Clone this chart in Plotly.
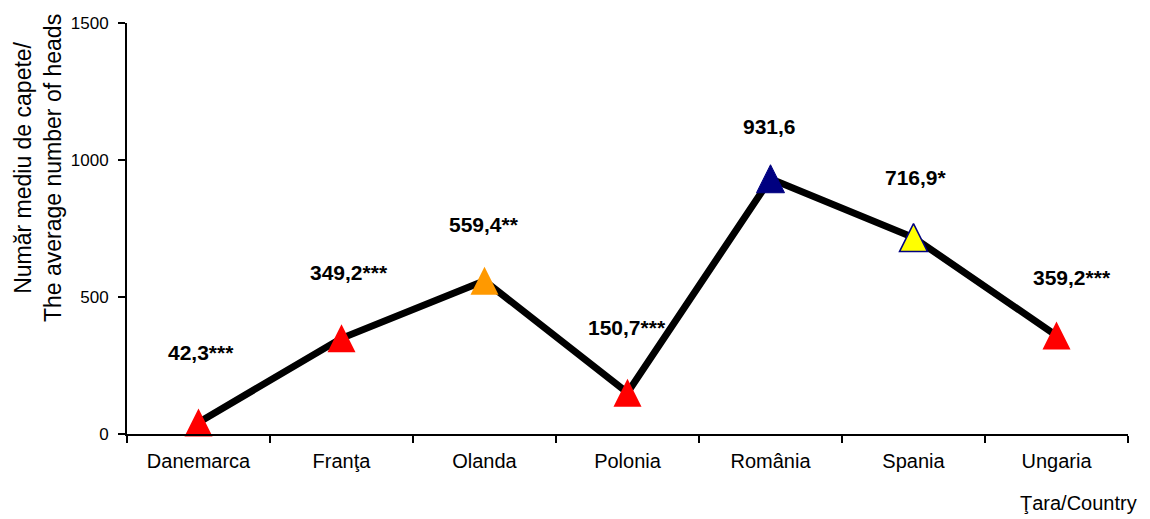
import plotly.graph_objects as go

countries = ["Danemarca", "Franţa", "Olanda", "Polonia", "România", "Spania", "Ungaria"]
values = [42.3, 349.2, 559.4, 150.7, 931.6, 716.9, 359.2]
labels = ["42,3***", "349,2***", "559,4**", "150,7***", "931,6", "716,9*", "359,2***"]
y_ticks = [0, 500, 1000, 1500]

marker_fill = ["#FF0000", "#FF0000", "#FF9900", "#FF0000", "#000080", "#FFFF00", "#FF0000"]
marker_edge = ["#FF0000", "#FF0000", "#FF9900", "#FF0000", "#000080", "#000080", "#FF0000"]
marker_edge_w = [0, 0, 0, 0, 1, 1.5, 0]
label_dy = [70, 66, 56, 65, 52, 60, 58]
label_dx = [2, 7, -1, -1, -1, 2, 15]

FONT = "Liberation Sans, Arial, sans-serif"
MSIZE = 28

fig = go.Figure()
fig.add_trace(go.Scatter(
    x=countries, y=values, mode="lines+markers",
    line=dict(color="black", width=7),
    marker=dict(symbol="arrow-down", angle=180, standoff=MSIZE / 2, size=MSIZE,
                color=marker_fill,
                line=dict(color=marker_edge, width=marker_edge_w)),
    cliponaxis=False, showlegend=False, hoverinfo="x+y",
))

for c, v, t, dy, dx in zip(countries, values, labels, label_dy, label_dx):
    fig.add_annotation(x=c, y=v, text="<b>%s</b>" % t, showarrow=False,
                       yshift=dy, xshift=dx,
                       font=dict(family=FONT, size=21, color="black"))

fig.add_annotation(xref="paper", yref="paper", x=-0.089, y=0.647,
                   xanchor="center", yanchor="middle",
                   text="Număr mediu de capete/<br>The average number of heads",
                   textangle=-90, showarrow=False,
                   font=dict(family=FONT, size=23, color="black"))
fig.add_annotation(xref="paper", yref="paper", x=1.011, y=-0.168,
                   xanchor="right", yanchor="middle",
                   text="Ţara/Country", showarrow=False,
                   font=dict(family=FONT, size=20, color="black"))

fig.update_layout(
    width=1150, height=519,
    margin=dict(l=119, r=30, t=15, b=93),
    paper_bgcolor="white", plot_bgcolor="white",
    font=dict(family=FONT, size=17, color="black"),
    xaxis=dict(type="category", range=[-0.5, 6.5], showgrid=False,
               showline=True, linecolor="black", linewidth=2,
               ticks="outside", tickson="boundaries", ticklen=7,
               tickcolor="black", tickwidth=2, tickfont=dict(size=20),
               ticklabelstandoff=8, automargin=False),
    yaxis=dict(range=[0, 1500], tickvals=y_ticks, showgrid=False,
               zeroline=False, showline=True, linecolor="black", linewidth=2,
               ticks="outside", ticklen=7, tickcolor="black", tickwidth=2,
               tickfont=dict(size=17), ticklabelstandoff=6, automargin=False),
)

fig.write_html("out.html")
